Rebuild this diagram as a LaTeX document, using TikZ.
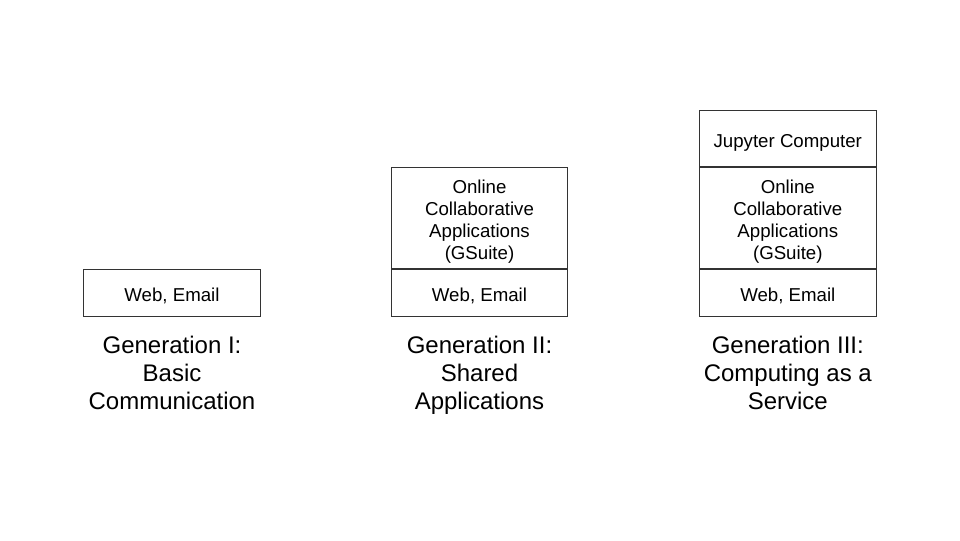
\documentclass[tikz,border=0pt]{standalone}
\usepackage{fontspec}
\setmainfont{Liberation Sans}
\usetikzlibrary{positioning}

\tikzset{
  layer/.style={draw=black!80, line width=0.75pt, minimum width=132.5pt,
    inner sep=0pt, align=center, font=\fontsize{14}{16.5}\selectfont,
    execute at begin node={\rule{0pt}{15.5pt}}},
  applayer/.style={layer, minimum height=75.75pt,
    execute at begin node={\rule{0pt}{65.5pt}}},
  gentitle/.style={align=center, inner sep=0pt,
    font=\fontsize{18}{20.7}\selectfont},
}

\begin{document}
\begin{tikzpicture}[x=0.75pt, y=-0.75pt]
        \useasboundingbox (0,0) rectangle (960,540);

        % Generation I
        \node[layer, minimum height=34.8pt] (webA) at (172, 292.8) {Web, Email};
        \node[gentitle, below=14.75pt of webA] (genA) {Generation I:\\Basic\\Communication};

        % Generation II
        \node[layer, minimum height=34.8pt] (webB) at (479.5, 292.8) {Web, Email};
        \node[applayer, above=0pt of webB] (appsB)
            {Online\\Collaborative\\Applications\\(GSuite)};
        \node[gentitle, below=14.75pt of webB] (genB) {Generation II:\\Shared\\Applications};

        % Generation III
        \node[layer, minimum height=34.8pt] (webC) at (787.8, 292.8) {Web, Email};
        \node[applayer, above=0pt of webC] (appsC)
            {Online\\Collaborative\\Applications\\(GSuite)};
        \node[layer, minimum height=42pt, above=0pt of appsC] (jupC) {Jupyter Computer};
        \node[gentitle, below=14.75pt of webC] (genC) {Generation III:\\Computing as a\\Service};

    \end{tikzpicture}
\end{document}
